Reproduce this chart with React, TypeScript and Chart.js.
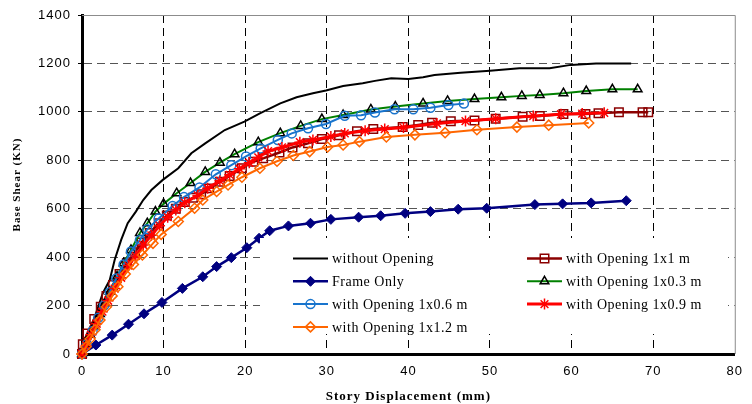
import React, { useEffect, useRef } from 'react';
import { Chart, registerables } from 'chart.js';

Chart.register(...registerables);

// ---- data (Story Displacement in mm, Base Shear in KN) ----
const withoutX = [0, 0.3, 1.3, 2.55, 3.4, 4.0, 4.8, 5.6, 6.6, 7.5, 8.5, 9.9, 11.8, 13.4, 15.1, 17.5, 19.9, 21.8, 24.3, 26.3, 28.3, 29.9, 32.0, 34.4, 35.9, 37.9, 40.0, 41.8, 43.2, 46.4, 50.0, 53.6, 57.3, 59.9, 63.0, 67.3];
const withoutY = [0, 44, 127, 251, 306, 388, 471, 540, 588, 636, 677, 719, 767, 829, 870, 925, 960, 994, 1035, 1060, 1077, 1088, 1107, 1118, 1128, 1139, 1136, 1143, 1152, 1162, 1170, 1180, 1180, 1194, 1200, 1200];

const op1x1X = [0, 0.1, 0.65, 1.5, 2.3, 3.0, 3.8, 4.6, 5.5, 6.5, 7.3, 8.3, 9.4, 10.4, 11.5, 12.6, 13.6, 14.6, 15.6, 16.9, 18.1, 19.6, 21.0, 22.2, 24.2, 25.8, 27.7, 29.4, 31.5, 33.7, 35.7, 39.3, 41.2, 42.9, 45.2, 48.1, 50.7, 54.0, 56.1, 59.0, 61.7, 63.3, 65.8, 68.7, 69.4];
const op1x1Y = [0, 40, 85, 145, 195, 240, 285, 330, 375, 420, 460, 500, 540, 572, 600, 628, 645, 660, 684, 711, 735, 767, 794, 808, 832, 853, 870, 888, 903, 920, 929, 937, 946, 955, 961, 964, 972, 980, 983, 991, 991, 994, 998, 998, 998];

const frameX = [0, 1.7, 3.7, 5.7, 7.6, 9.8, 12.3, 14.8, 16.5, 18.3, 20.2, 21.7, 23.0, 25.3, 28.0, 30.5, 33.9, 36.6, 39.6, 42.7, 46.1, 49.6, 55.5, 58.9, 62.4, 66.7];
const frameY = [0, 37, 78, 123, 166, 213, 271, 319, 361, 398, 439, 478, 509, 529, 540, 556, 565, 571, 581, 588, 598, 602, 617, 620, 624, 633];

const op1x03X = [0, 0.5, 1.0, 1.5, 2.2, 2.8, 3.4, 4.3, 5.1, 6.0, 7.1, 8.0, 9.0, 10.0, 11.6, 13.3, 15.1, 16.9, 18.7, 21.6, 24.3, 26.8, 29.4, 32.0, 35.4, 38.4, 41.8, 44.8, 48.1, 51.4, 53.9, 56.1, 59.0, 61.8, 65.0, 68.1];
const op1x03Y = [0, 40, 80, 115, 165, 210, 257, 320, 375, 430, 500, 540, 588, 620, 664, 706, 752, 790, 825, 875, 912, 942, 970, 987, 1010, 1022, 1035, 1045, 1053, 1060, 1066, 1070, 1077, 1086, 1093, 1093];

const op1x06X = [0, 0.6, 1.3, 2.0, 2.7, 3.4, 4.2, 5.1, 6.0, 7.1, 8.0, 9.4, 11.1, 12.5, 14.4, 16.4, 18.3, 20.1, 21.9, 24.0, 25.7, 27.7, 29.9, 32.2, 34.2, 35.9, 38.3, 40.6, 42.7, 44.9, 46.8];
const op1x06Y = [0, 40, 95, 150, 200, 255, 312, 370, 423, 471, 515, 560, 611, 648, 688, 742, 780, 816, 849, 884, 911, 932, 950, 984, 986, 997, 1011, 1011, 1017, 1028, 1034];

const op1x09X = [0, 0.5, 1.1, 1.8, 2.5, 3.2, 4.0, 4.8, 5.7, 6.6, 7.5, 8.5, 9.5, 10.5, 11.5, 12.6, 14.2, 15.4, 16.9, 18.1, 19.3, 20.5, 21.6, 22.8, 24.5, 26.7, 28.3, 30.5, 32.2, 34.7, 37.1, 39.4, 43.5, 47.0, 50.7, 55.3, 58.7, 61.3, 64.0];
const op1x09Y = [0, 35, 80, 125, 175, 220, 270, 315, 365, 405, 450, 490, 530, 565, 595, 625, 655, 685, 715, 740, 765, 790, 812, 838, 853, 875, 884, 898, 911, 922, 929, 935, 952, 962, 972, 983, 990, 993, 996];

const op1x12X = [0, 0.5, 1.0, 1.6, 2.2, 3.0, 3.7, 4.4, 5.3, 6.3, 7.4, 8.7, 9.7, 11.8, 13.8, 14.8, 16.5, 17.9, 19.6, 21.8, 23.9, 25.9, 27.9, 30.1, 32.0, 34.0, 37.3, 40.8, 44.5, 48.4, 53.3, 57.2, 62.1];
const op1x12Y = [0, 30, 62, 100, 140, 195, 240, 278, 330, 370, 409, 457, 494, 547, 602, 636, 671, 698, 730, 767, 796, 820, 836, 855, 863, 877, 896, 905, 914, 926, 937, 945, 954];

const seriesLabels = [
  'without Opening',
  'with Opening 1x1 m',
  'Frame Only',
  'with Opening 1x0.3 m',
  'with Opening 1x0.6 m',
  'with Opening 1x0.9 m',
  'with Opening 1x1.2 m',
];

const xAxisTitle = 'Story Displacement (mm)';
const yAxisTitle = 'Base Shear (KN)';

// ---- styles ----
type Style = {
  line: string;
  lw: number;
  marker: string | false;
  r: number;
  mColor: string;
  mFill: string;
  mW: number;
};

const styles: Style[] = [
  { line: '#000000', lw: 2, marker: false, r: 0, mColor: '#000', mFill: 'transparent', mW: 1 },
  { line: '#8B0000', lw: 2.5, marker: 'rect', r: 6, mColor: '#8B0000', mFill: 'transparent', mW: 1.5 },
  { line: '#000080', lw: 2.5, marker: 'rectRot', r: 5, mColor: '#000080', mFill: '#000080', mW: 1 },
  { line: '#008000', lw: 2, marker: 'triangle', r: 5, mColor: '#000000', mFill: 'transparent', mW: 1.5 },
  { line: '#1874CD', lw: 2, marker: 'circle', r: 4.5, mColor: '#1874CD', mFill: 'transparent', mW: 1.5 },
  { line: '#FF0000', lw: 3, marker: 'star', r: 5.5, mColor: '#FF0000', mFill: 'transparent', mW: 1.5 },
  { line: '#FF6600', lw: 2, marker: 'rectRot', r: 5, mColor: '#FF6600', mFill: 'transparent', mW: 1.5 },
];

const seriesData: [number[], number[]][] = [
  [withoutX, withoutY],
  [op1x1X, op1x1Y],
  [frameX, frameY],
  [op1x03X, op1x03Y],
  [op1x06X, op1x06Y],
  [op1x09X, op1x09Y],
  [op1x12X, op1x12Y],
];

function drawMarker(ctx: CanvasRenderingContext2D, st: Style, x: number, y: number) {
  if (!st.marker) return;
  const r = st.r;
  ctx.save();
  ctx.lineWidth = st.mW;
  ctx.strokeStyle = st.mColor;
  ctx.fillStyle = st.mFill;
  ctx.setLineDash([]);
  ctx.beginPath();
  if (st.marker === 'rect') {
    const s = Math.SQRT1_2 * r;
    ctx.rect(x - s, y - s, 2 * s, 2 * s);
  } else if (st.marker === 'rectRot') {
    ctx.moveTo(x - r, y);
    ctx.lineTo(x, y - r);
    ctx.lineTo(x + r, y);
    ctx.lineTo(x, y + r);
    ctx.closePath();
  } else if (st.marker === 'circle') {
    ctx.arc(x, y, r, 0, Math.PI * 2);
  } else if (st.marker === 'triangle') {
    const a = (2 * Math.PI) / 3;
    ctx.moveTo(x, y - r);
    ctx.lineTo(x + Math.sin(a) * r, y - Math.cos(a) * r);
    ctx.lineTo(x - Math.sin(a) * r, y - Math.cos(a) * r);
    ctx.closePath();
  } else if (st.marker === 'star') {
    ctx.moveTo(x - r, y); ctx.lineTo(x + r, y);
    ctx.moveTo(x, y - r); ctx.lineTo(x, y + r);
    const d = r * Math.SQRT1_2;
    ctx.moveTo(x - d, y - d); ctx.lineTo(x + d, y + d);
    ctx.moveTo(x - d, y + d); ctx.lineTo(x + d, y - d);
  }
  if (st.mFill !== 'transparent') ctx.fill();
  ctx.stroke();
  ctx.restore();
}

const spacingPlugin = {
  id: 'letterSpacing',
  beforeDraw(chart: any) {
    (chart.ctx as any).letterSpacing = '1px';
  },
  afterDraw(chart: any) {
    (chart.ctx as any).letterSpacing = '0px';
  },
};

const framePlugin = {
  id: 'frameBorders',
  beforeDatasetsDraw(chart: any) {
    const { ctx, chartArea } = chart;
    ctx.save();
    ctx.strokeStyle = '#8c8c8c';
    ctx.lineWidth = 1;
    ctx.beginPath();
    ctx.moveTo(chartArea.left, chartArea.top + 0.5);
    ctx.lineTo(chartArea.right + 0.5, chartArea.top + 0.5);
    ctx.lineTo(chartArea.right + 0.5, chartArea.bottom);
    ctx.stroke();
    ctx.restore();
  },
};

const legendPlugin = {
  id: 'gridLegend',
  afterDraw(chart: any) {
    const { ctx } = chart;
    ctx.save();
    (ctx as any).letterSpacing = '0.5px';
    ctx.fillStyle = '#ffffff';
    ctx.fillRect(260, 238, 468, 96);
    const colX = [293, 527];
    const rowY0 = 258.5;
    const rowH = 22.8;
    ctx.font = '14px "Liberation Serif", serif';
    ctx.textBaseline = 'middle';
    ctx.textAlign = 'left';
    seriesLabels.forEach((label, i) => {
      const row = Math.floor(i / 2);
      const col = i % 2;
      const x0 = colX[col];
      const y = rowY0 + row * rowH;
      const st = styles[i];
      ctx.save();
      ctx.strokeStyle = st.line;
      ctx.lineWidth = st.lw;
      ctx.beginPath();
      ctx.moveTo(x0, y);
      ctx.lineTo(x0 + 35, y);
      ctx.stroke();
      ctx.restore();
      drawMarker(ctx, st, x0 + 17.5, y);
      ctx.fillStyle = '#000';
      ctx.fillText(label, x0 + 39, y + 1);
    });
    ctx.restore();
  },
};

export default function App() {
  const ref = useRef<HTMLCanvasElement>(null);

  useEffect(() => {
    document.body.style.margin = '0';
    const canvas = ref.current;
    if (!canvas) return;

    const datasets = seriesLabels.map((label, i) => {
      const st = styles[i];
      const [xs, ys] = seriesData[i];
      return {
        label,
        data: xs.map((x, k) => ({ x, y: ys[k] })),
        showLine: true,
        borderColor: st.line,
        borderWidth: st.lw,
        backgroundColor: st.mFill,
        pointStyle: st.marker || 'circle',
        pointRadius: st.marker ? st.r : 0,
        pointHoverRadius: st.marker ? st.r : 0,
        pointBorderColor: st.mColor,
        pointBackgroundColor: st.mFill,
        pointBorderWidth: st.mW,
        tension: 0,
        clip: false as any,
        order: seriesLabels.length - 1 - i,
      };
    });

    const chart = new Chart(canvas, {
      type: 'scatter',
      data: { datasets: datasets as any },
      plugins: [spacingPlugin, framePlugin, legendPlugin],
      options: {
        responsive: false,
        animation: false,
        devicePixelRatio: 1,
        layout: { padding: { left: 0, right: 8, top: 15, bottom: 0 } },
        plugins: {
          legend: { display: false },
          tooltip: { enabled: false },
        },
        scales: {
          x: {
            type: 'linear',
            min: 0,
            max: 80,
            afterFit: (s: any) => { s.height = 50; },
            ticks: {
              stepSize: 10,
              color: '#000',
              padding: 10,
              callback: (v: any) => String(v),
              font: { family: '"Liberation Sans", Arial, sans-serif', size: 13 },
            },
            grid: {
              color: (c: any) => (c.tick && (c.tick.value === 0 || c.tick.value === 80) ? 'transparent' : '#000'),
              lineWidth: 1,
              drawTicks: false,
            },
            border: { display: true, color: '#000', width: 3, dash: [8, 5] },
            title: {
              display: true,
              text: xAxisTitle,
              color: '#000',
              padding: { top: 0, bottom: 0 },
              font: { family: '"Liberation Serif", "Times New Roman", serif', size: 13, weight: 'bold' },
            },
          },
          y: {
            type: 'linear',
            min: 0,
            max: 1400,
            afterFit: (s: any) => { s.width = 82; },
            ticks: {
              stepSize: 200,
              color: '#000',
              padding: 7,
              callback: (v: any) => String(v),
              font: { family: '"Liberation Sans", Arial, sans-serif', size: 13 },
            },
            grid: {
              color: (c: any) => (c.tick && (c.tick.value === 0 || c.tick.value === 1400) ? 'transparent' : '#555'),
              lineWidth: 1,
              drawTicks: true,
              tickLength: 4,
              tickColor: '#000',
            },
            border: { display: true, color: '#000', width: 3, dash: [8, 5] },
            title: {
              display: true,
              text: yAxisTitle,
              color: '#000',
              padding: { top: 11, bottom: 0 },
              font: { family: '"Liberation Serif", "Times New Roman", serif', size: 11, weight: 'bold' },
            },
          },
        },
      } as any,
    });

    return () => chart.destroy();
  }, []);

  return <canvas ref={ref} width={752} height={404} style={{ display: 'block', width: 752, height: 404 }} />;
}
